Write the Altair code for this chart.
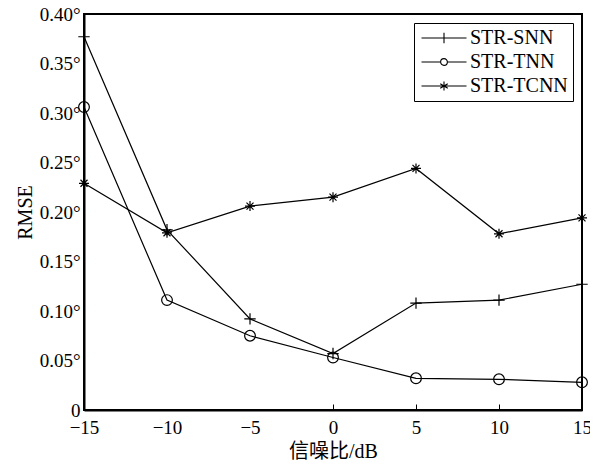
import altair as alt
import pandas as pd

# ---- data ----
snr = [-15, -10, -5, 0, 5, 10, 15]
series_names = ["STR-SNN", "STR-TNN", "STR-TCNN"]
rmse_snn = [0.377, 0.182, 0.092, 0.057, 0.108, 0.111, 0.127]
rmse_tnn = [0.306, 0.111, 0.075, 0.053, 0.032, 0.031, 0.028]
rmse_tcnn = [0.229, 0.179, 0.206, 0.215, 0.244, 0.178, 0.194]
y_tick_values = [0, 0.05, 0.10, 0.15, 0.20, 0.25, 0.30, 0.35, 0.40]
x_tick_values = [-15, -10, -5, 0, 5, 10, 15]
inner_tick_values = [0, 5, 10]

rows = []
for name, vals in zip(series_names, [rmse_snn, rmse_tnn, rmse_tcnn]):
    for x, v in zip(snr, vals):
        rows.append({"snr": x, "rmse": v, "series": name})
df = pd.DataFrame(rows)

FONT = "Liberation Serif, Noto Sans CJK SC"
PLUS = "M0,-1L0,1M-1,0L1,0"
STAR = "M0,-1L0,1M-1,0L1,0M-0.7,-0.7L0.7,0.7M-0.7,0.7L0.7,-0.7"
LEG_PLUS = "M-1,0L5,0M2,-0.7L2,0.7"
LEG_CIRC = ("M-1,0L1.55,0M2.45,0L5,0M1.55,0A0.45,0.45 0 1,0 2.45,0"
            "A0.45,0.45 0 1,0 1.55,0")
LEG_STAR = "M-1,0L5,0M2,-0.6L2,0.6M1.5,-0.3L2.5,0.3M1.5,0.3L2.5,-0.3M1.4,0L2.6,0"

W, H = 498, 396
x_scale = alt.Scale(domain=[-15, 15], nice=False, zero=False)
y_scale = alt.Scale(domain=[0, 0.4], nice=False)

x_main = alt.X(
    "snr:Q", scale=x_scale,
    axis=alt.Axis(
        values=x_tick_values, title="信噪比/dB", ticks=False, grid=False,
        labelPadding=8, labelFlush=False, titleBaseline="middle", titleY=41,
    ),
)
y_main = alt.Y(
    "rmse:Q", scale=y_scale,
    axis=alt.Axis(
        values=y_tick_values, title="RMSE", ticks=False, grid=False,
        labelPadding=4, labelFlush=False,
        labelExpr="datum.value == 0 ? '0' : format(datum.value, '.2f') + '°'",
        titleX=-59, titleBaseline="middle",
    ),
)

base = alt.Chart(df)

lines = base.mark_line(color="black", strokeWidth=1.2).encode(
    x=x_main, y=y_main, detail="series:N"
)

points = base.mark_point(filled=False, color="black", strokeWidth=1.2, opacity=1).encode(
    x=alt.X("snr:Q", scale=x_scale, axis=None),
    y=alt.Y("rmse:Q", scale=y_scale),
    shape=alt.Shape(
        "series:N",
        scale=alt.Scale(domain=series_names, range=[PLUS, "circle", STAR]),
        legend=None,
    ),
    size=alt.Size(
        "series:N",
        scale=alt.Scale(domain=series_names, range=[130, 100, 120]),
        legend=None,
    ),
)

ghost = base.mark_point(filled=False, color="black", opacity=0).encode(
    x=alt.X(
        "snr:Q", scale=x_scale,
        axis=alt.Axis(
            values=inner_tick_values, orient="bottom", offset=-6, tickSize=6,
            domain=False, labels=False, title=None, grid=False,
            tickColor="black", tickWidth=1,
        ),
    ),
    y=alt.Y("rmse:Q", scale=y_scale),
    shape=alt.Shape(
        "series:N",
        scale=alt.Scale(domain=series_names, range=[LEG_PLUS, LEG_CIRC, LEG_STAR]),
        legend=alt.Legend(
            title=None, orient="none", legendX=330, legendY=9,
            strokeColor="black", fillColor="white", padding=5,
            symbolSize=225, symbolStrokeWidth=1.1, symbolStrokeColor="black",
            symbolFillColor="transparent", symbolOpacity=1,
            labelFont=FONT, labelFontSize=20, labelColor="black",
            labelOffset=31, rowPadding=4,
        ),
    ),
)

chart = (
    alt.layer(lines, points, ghost)
    .resolve_scale(shape="independent", size="independent")
    .resolve_axis(x="independent")
    .properties(
        width=W, height=H,
        autosize=alt.AutoSizeParams(type="none"),
        padding={"left": 76, "top": 6, "right": 8, "bottom": 51},
        background="white",
    )
    .configure_view(stroke="black", strokeWidth=2)
    .configure_axis(
        domainColor="black", domainWidth=2,
        labelFont=FONT, labelFontSize=19, labelColor="black",
        titleFont=FONT, titleFontSize=20, titleColor="black", titleFontWeight="normal",
    )
    .configure_legend(strokeWidth=1)
)

chart.save("out.html", embed_options={"renderer": "svg", "actions": False})
